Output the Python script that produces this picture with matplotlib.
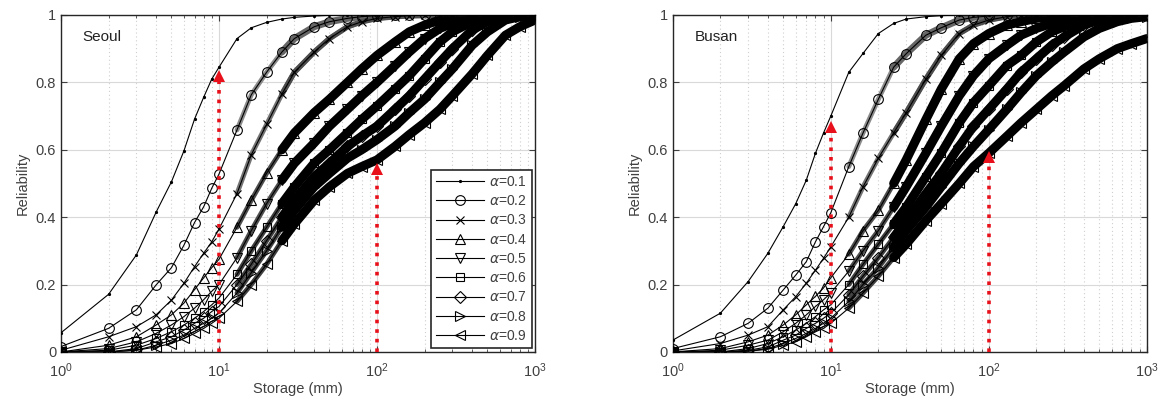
import numpy as np
import matplotlib
matplotlib.use("Agg")
import matplotlib.pyplot as plt
from matplotlib.ticker import LogLocator, FixedLocator, NullFormatter

storage = [1, 2, 3, 4, 5, 6, 7, 8, 9, 10, 13, 16, 20, 25, 30, 40, 50, 65, 80, 100,
           130, 160, 200, 250, 300, 400, 500, 650, 800, 1000]

alphas = [0.1, 0.2, 0.3, 0.4, 0.5, 0.6, 0.7, 0.8, 0.9]

seoul = [
    [0.057, 0.171, 0.288, 0.415, 0.505, 0.597, 0.691, 0.756, 0.81, 0.845, 0.93, 0.962, 0.978, 0.988, 0.993, 0.997, 0.999, 1, 1, 1, 1, 1, 1, 1, 1, 1, 1, 1, 1, 1],
    [0.016, 0.07, 0.125, 0.199, 0.25, 0.317, 0.384, 0.431, 0.486, 0.528, 0.659, 0.763, 0.83, 0.89, 0.93, 0.965, 0.98, 0.99, 0.995, 0.998, 1, 1, 1, 1, 1, 1, 1, 1, 1, 1],
    [0.005, 0.045, 0.075, 0.11, 0.154, 0.204, 0.253, 0.293, 0.327, 0.365, 0.47, 0.585, 0.675, 0.765, 0.83, 0.89, 0.93, 0.965, 0.98, 0.99, 0.995, 0.998, 1, 1, 1, 1, 1, 1, 1, 1],
    [0.0, 0.02, 0.045, 0.08, 0.11, 0.145, 0.185, 0.22, 0.25, 0.275, 0.37, 0.45, 0.53, 0.60, 0.65, 0.71, 0.75, 0.80, 0.84, 0.88, 0.92, 0.95, 0.97, 0.985, 0.99, 0.996, 1, 1, 1, 1],
    [0.0, 0.01, 0.03, 0.055, 0.08, 0.105, 0.13, 0.155, 0.18, 0.20, 0.28, 0.36, 0.44, 0.51, 0.56, 0.62, 0.67, 0.72, 0.76, 0.80, 0.85, 0.89, 0.93, 0.96, 0.975, 0.99, 0.995, 1, 1, 1],
    [0.0, 0.005, 0.02, 0.04, 0.06, 0.08, 0.10, 0.12, 0.14, 0.16, 0.23, 0.30, 0.37, 0.44, 0.49, 0.56, 0.60, 0.65, 0.69, 0.73, 0.78, 0.82, 0.87, 0.92, 0.95, 0.98, 0.99, 1, 1, 1],
    [0.0, 0.0, 0.01, 0.03, 0.045, 0.065, 0.085, 0.10, 0.12, 0.135, 0.20, 0.26, 0.33, 0.40, 0.45, 0.52, 0.56, 0.61, 0.64, 0.67, 0.72, 0.76, 0.81, 0.86, 0.90, 0.955, 0.98, 0.995, 1, 1],
    [0.0, 0.0, 0.005, 0.02, 0.035, 0.05, 0.07, 0.085, 0.10, 0.115, 0.175, 0.235, 0.30, 0.37, 0.42, 0.49, 0.53, 0.575, 0.60, 0.63, 0.67, 0.71, 0.75, 0.80, 0.84, 0.91, 0.95, 0.985, 0.995, 1],
    [0.0, 0.0, 0.005, 0.015, 0.025, 0.04, 0.055, 0.07, 0.085, 0.10, 0.15, 0.20, 0.26, 0.33, 0.38, 0.45, 0.49, 0.53, 0.55, 0.57, 0.61, 0.645, 0.68, 0.72, 0.76, 0.825, 0.88, 0.94, 0.965, 0.985],
]

busan = [
    [0.035, 0.115, 0.209, 0.293, 0.372, 0.44, 0.51, 0.59, 0.65, 0.70, 0.83, 0.886, 0.945, 0.975, 0.988, 0.995, 0.998, 1, 1, 1, 1, 1, 1, 1, 1, 1, 1, 1, 1, 1],
    [0.01, 0.045, 0.085, 0.13, 0.184, 0.228, 0.268, 0.327, 0.372, 0.413, 0.55, 0.65, 0.75, 0.845, 0.885, 0.94, 0.962, 0.985, 0.993, 0.997, 1, 1, 1, 1, 1, 1, 1, 1, 1, 1],
    [0.003, 0.025, 0.05, 0.075, 0.125, 0.164, 0.204, 0.243, 0.278, 0.312, 0.40, 0.49, 0.575, 0.65, 0.71, 0.81, 0.88, 0.945, 0.97, 0.985, 0.995, 1, 1, 1, 1, 1, 1, 1, 1, 1],
    [0.0, 0.01, 0.03, 0.05, 0.08, 0.11, 0.14, 0.165, 0.19, 0.22, 0.29, 0.36, 0.42, 0.50, 0.57, 0.69, 0.78, 0.87, 0.915, 0.945, 0.97, 0.98, 0.99, 0.995, 0.997, 1, 1, 1, 1, 1],
    [0.0, 0.005, 0.02, 0.035, 0.06, 0.085, 0.11, 0.135, 0.155, 0.175, 0.24, 0.30, 0.36, 0.43, 0.49, 0.59, 0.67, 0.76, 0.82, 0.87, 0.91, 0.94, 0.96, 0.975, 0.985, 0.995, 1, 1, 1, 1],
    [0.0, 0.0, 0.01, 0.025, 0.045, 0.065, 0.085, 0.105, 0.125, 0.14, 0.20, 0.26, 0.32, 0.38, 0.43, 0.52, 0.59, 0.68, 0.74, 0.79, 0.85, 0.88, 0.92, 0.95, 0.965, 0.985, 0.995, 1, 1, 1],
    [0.0, 0.0, 0.005, 0.015, 0.035, 0.05, 0.07, 0.085, 0.10, 0.115, 0.17, 0.225, 0.28, 0.34, 0.39, 0.47, 0.53, 0.61, 0.67, 0.72, 0.78, 0.83, 0.87, 0.91, 0.935, 0.97, 0.985, 0.995, 1, 1],
    [0.0, 0.0, 0.003, 0.01, 0.025, 0.04, 0.055, 0.07, 0.085, 0.10, 0.15, 0.20, 0.25, 0.31, 0.36, 0.43, 0.49, 0.56, 0.61, 0.66, 0.72, 0.77, 0.82, 0.86, 0.89, 0.935, 0.96, 0.98, 0.99, 0.995],
    [0.0, 0.0, 0.002, 0.008, 0.02, 0.03, 0.045, 0.06, 0.07, 0.085, 0.13, 0.175, 0.225, 0.28, 0.32, 0.39, 0.44, 0.50, 0.55, 0.59, 0.64, 0.68, 0.72, 0.76, 0.79, 0.84, 0.87, 0.90, 0.915, 0.93],
]

# red arrows: storage where drawn and reliability at the tip
arrow_x = [10, 100]
seoul_tips = [0.83, 0.555]
busan_tips = [0.68, 0.59]

markers = ['.', 'o', 'x', '^', 'v', 's', 'D', '>', '<']
msizes = [3, 7, 6, 7, 7, 6, 6, 7, 7]
# bands mimic the densely packed markers (one marker per mm in the original)
thin_col = [None, '0.55', '0.45', '0.3', '0.3', '0.25', '0.25', '0.25', '0.25']
thick_col = [None, '0.4', '0.3', 'k', 'k', 'k', 'k', 'k', 'k']
thick_lw = [0, 5, 4, 6.5, 6.5, 6.5, 6.5, 6.5, 6.5]

plt.rcParams['font.family'] = 'Liberation Sans'

fig = plt.figure(figsize=(11.6, 4.05), dpi=100)
ax1 = fig.add_axes([0.0526, 0.131, 0.4086, 0.832])
ax2 = fig.add_axes([0.580, 0.131, 0.4086, 0.832])

S = np.array(storage)
for ax, data, name, tips in [(ax1, seoul, 'Seoul', seoul_tips), (ax2, busan, 'Busan', busan_tips)]:
    for i, a in enumerate(alphas):
        R = np.array(data[i])
        if thin_col[i] is not None:
            m = S >= 13
            ax.plot(S[m], R[m], '-', color=thin_col[i], lw=3.5,
                    solid_capstyle='round', zorder=2)
            m = S >= 25
            ax.plot(S[m], R[m], '-', color=thick_col[i], lw=thick_lw[i],
                    solid_capstyle='round', zorder=2)
        ax.plot(S, R, '-', color='k', lw=0.8, marker=markers[i], ms=msizes[i],
                mfc='none' if markers[i] not in ('.', 'x') else 'k', mec='k', mew=0.8,
                label=r'$\alpha$=%.1f' % a, zorder=3)
    for xa, tip in zip(arrow_x, tips):
        ax.plot([xa, xa], [0, tip - 0.02], ':', color='#e8101a', lw=2.6, zorder=4)
        ax.plot([xa], [tip - 0.012], marker='^', color='#e8101a', ms=8, mew=0, zorder=4)

    ax.set_xscale('log')
    ax.set_xlim(1, 1000)
    ax.set_ylim(0, 1)
    ax.xaxis.set_major_locator(LogLocator(base=10, numticks=10))
    ax.xaxis.set_minor_locator(LogLocator(base=10, subs=np.arange(2, 10), numticks=10))
    ax.xaxis.set_minor_formatter(NullFormatter())
    ax.yaxis.set_major_locator(FixedLocator([0, 0.2, 0.4, 0.6, 0.8, 1]))
    ax.set_yticklabels(['0', '0.2', '0.4', '0.6', '0.8', '1'])
    ax.grid(True, which='major', color='#d9d9d9', lw=0.8)
    ax.grid(True, which='minor', axis='x', color='#cfcfcf', lw=0.8, ls=(0, (1, 2.5)))
    ax.set_axisbelow(True)
    ax.tick_params(which='both', direction='in', top=True, right=True, labelsize=10.5,
                   colors='#404040', labelcolor='#404040')
    ax.tick_params(which='major', length=4)
    ax.tick_params(which='minor', length=2)
    ax.tick_params(axis='x', which='major', pad=7)
    for sp in ax.spines.values():
        sp.set_color('#262626')
        sp.set_linewidth(1.0)
    ax.set_xlabel('Storage (mm)', fontsize=10.5, color='#404040', labelpad=1)
    ax.set_ylabel('Reliability', fontsize=10.5, color='#404040', labelpad=4)
    ax.text(0.046, 0.935, name, transform=ax.transAxes, fontsize=11, va='center',
            color='#222222')

leg = ax1.legend(loc='lower right', bbox_to_anchor=(0.994, 0.012), borderaxespad=0,
                 fontsize=10, frameon=True, fancybox=False, edgecolor='#262626',
                 handlelength=3.4, handletextpad=0.4, labelspacing=0.38,
                 borderpad=0.35, framealpha=1)
leg.get_frame().set_linewidth(1.2)
leg.set_zorder(10)
for t in leg.get_texts():
    t.set_color('#404040')

fig.savefig('out.png', dpi=100, facecolor='white')
